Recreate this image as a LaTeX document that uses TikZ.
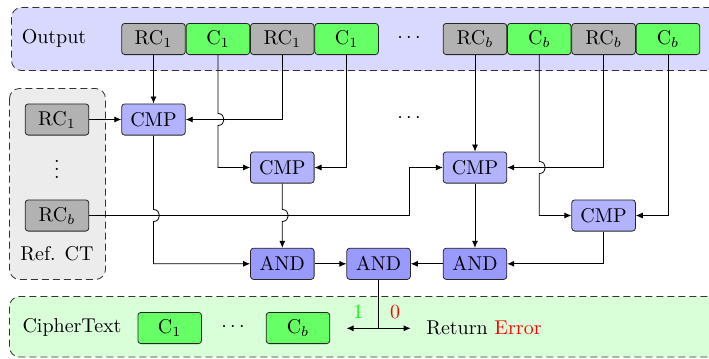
\documentclass[tikz,border=0pt]{standalone}
\usetikzlibrary{arrows.meta,calc}
\begin{document}
\begin{tikzpicture}[x=0.5pt,y=0.5pt,yscale=-1,xscale=1,
  blk/.style={draw=black!85,rounded corners=1.5pt,minimum width=31.8pt,minimum height=15.6pt,inner sep=0pt},
  rc/.style={blk,fill=gray!60},
  ct/.style={blk,fill=green!60},
  cmp/.style={blk,fill=blue!30},
  gate/.style={blk,fill=blue!40},
  region/.style={draw=black!80,dash pattern=on 3.5pt off 2pt,rounded corners=5pt},
  arr/.style={-{Latex[length=3.5pt,width=3pt]}},
  darr/.style={{Latex[length=3.5pt,width=3pt]}-{Latex[length=3.5pt,width=3pt]}}
]
\clip (0,0) rectangle (709,359);

%Shape: Rectangle [output]
\draw[region,fill=blue!15] (11.5,7.5) rectangle (722,70.5);
%Shape: Rectangle [ref]
\draw[region,fill=gray!15] (9.5,88.5) rectangle (105.5,279.5);
%Shape: Rectangle [ciphertext]
\draw[region,fill=green!15] (9.5,296.5) rectangle (722,357);

% Output row
\node (outlbl) at (54,38) {Output};
\node[rc] (o1) at (153.5,39) {RC$_1$};
\node[ct] (o2) at (218,39) {C$_1$};
\node[rc] (o3) at (282.3,39) {RC$_1$};
\node[ct] (o4) at (346.6,39) {C$_1$};
\node (odots) at (409,38) {$\cdots$};
\node[rc] (o5) at (475,39) {RC$_b$};
\node[ct] (o6) at (539.3,39) {C$_b$};
\node[rc] (o7) at (603.6,39) {RC$_b$};
\node[ct] (o8) at (668,39) {C$_b$};

% Ref. CT column
\node[rc] (r1) at (57,119.5) {RC$_1$};
\node (rdots) at (57,163) {$\vdots$};
\node[rc] (rb) at (57,215.5) {RC$_b$};
\node (reflbl) at (57,254) {Ref. CT};

% comparators and gates
\node[cmp] (cmp1) at (153.5,119.5) {CMP};
\node[cmp] (cmp2) at (282.3,167.5) {CMP};
\node[cmp] (cmp3) at (475,167.5) {CMP};
\node[cmp] (cmp4) at (603.6,215.5) {CMP};
\node (mdots) at (409,118) {$\cdots$};
\node[gate] (and1) at (282.3,263.8) {AND};
\node[gate] (and2) at (378.6,263.8) {AND};
\node[gate] (and3) at (475,263.8) {AND};

% CipherText row
\node (ctlbl) at (72,327) {CipherText};
\node[ct] (c1) at (169.7,328) {C$_1$};
\node (cdots) at (233,327) {$\cdots$};
\node[ct] (cb) at (298,328) {C$_b$};

%Straight Lines [first pair]
\draw[arr] (o1.south) -- (cmp1.north);
\draw[arr] (r1.east) -- (cmp1.west);
\draw[arr] (o3.south) |- (cmp1.east);
\draw[arr] (o2.south) -- ($(o2.south |- cmp1.east)+(0,-6)$) .. controls +(8,0) and +(8,0) .. ($(o2.south |- cmp1.east)+(0,6)$) |- (cmp2.west);
\draw[arr] (o4.south) |- (cmp2.east);

%Straight Lines [last pair]
\coordinate (bend) at ($(cmp3.west)+(-33,0)$);
\draw[arr] (rb.east) -| (bend) -- (cmp3.west);
\draw[arr] (o5.south) -- (cmp3.north);
\draw[arr] (o7.south) |- (cmp3.east);
\draw[arr] (o6.south) -- ($(o6.south |- cmp3.east)+(0,-6)$) .. controls +(8,0) and +(8,0) .. ($(o6.south |- cmp3.east)+(0,6)$) |- (cmp4.west);
\draw[arr] (o8.south) |- (cmp4.east);

%Straight Lines [to the gates]
\draw[arr] (cmp1.south) -- ($(cmp1.south |- rb.east)+(0,-6)$) .. controls +(8,0) and +(8,0) .. ($(cmp1.south |- rb.east)+(0,6)$) |- (and1.west);
\draw[arr] (cmp2.south) -- ($(cmp2.south |- rb.east)+(0,-6)$) .. controls +(8,0) and +(8,0) .. ($(cmp2.south |- rb.east)+(0,6)$) -- (and1.north);
\draw[arr] (cmp3.south) -- (and3.north);
\draw[arr] (cmp4.south) |- (and3.east);
\draw[arr] (and1.east) -- (and2.west);
\draw[arr] (and3.west) -- (and2.east);

%Straight Lines [result]
\coordinate (split) at ($(and2.south)+(0,48.5)$);
\coordinate (one) at ($(split)+(-32,0)$);
\coordinate (zero) at ($(split)+(32,0)$);
\draw (and2.south) -- (split);
\draw[darr] (one) -- (zero);
\node[text=green] (lbl1) at (358,312) {1};
\node[text=red] (lbl0) at (395,312) {0};
\node (ret) at (484,328) {Return \textcolor{red}{Error}};

\end{tikzpicture}
\end{document}
